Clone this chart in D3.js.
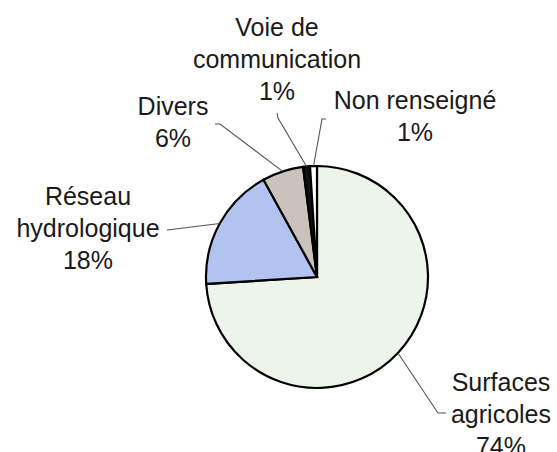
<!DOCTYPE html>
<html>
<head>
<meta charset="utf-8">
<script src="https://cdn.jsdelivr.net/npm/d3@7/dist/d3.min.js"></script>
<style>
  html, body { margin: 0; padding: 0; background: #fff; }
  svg { display: block; }
  text { font-family: "Liberation Sans", Arial, sans-serif; font-size: 25px; fill: #1a1a1a; }
</style>
</head>
<body>
<svg id="chart" width="557" height="452"></svg>
<script>
// ---- data ----
const categories = ["Surfaces agricoles", "Réseau hydrologique", "Divers", "Voie de communication", "Non renseigné"];
const values = [74, 18, 6, 1, 1];
const labelLines = [
  ["Surfaces", "agricoles", "74%"],
  ["Réseau", "hydrologique", "18%"],
  ["Divers", "6%"],
  ["Voie de", "communication", "1%"],
  ["Non renseigné", "1%"]
];

// ---- styles / layout ----
const colors = ["#edf5ea", "#b3c3ef", "#cbc3bb", "#111111", "#ffffff"];
const cx = 317, cy = 277, r = 111;
const labelLayout = [
  { x: 501, y: 391, lead: [[438, 413], [446, 413]] },
  { x: 88,  y: 205, lead: [[167, 230]] },
  { x: 173, y: 115, lead: [[220, 124], [215, 124]] },
  { x: 277, y: 36,  lead: [[278, 118], [277, 113]] },
  { x: 415, y: 109, lead: [[322, 119], [326, 119]] }
];
const lineH = 32;

const svg = d3.select("#chart");
const g = svg.append("g").attr("transform", `translate(${cx},${cy})`);

const data = categories.map((c, i) => ({ name: c, value: values[i], i }));
const pie = d3.pie().sort(null).value(d => d.value).startAngle(0).endAngle(2 * Math.PI);
const arcs = pie(data);
const arc = d3.arc().innerRadius(0).outerRadius(r);
const edge = d3.arc().innerRadius(r).outerRadius(r);

g.selectAll("path.slice")
  .data(arcs)
  .join("path")
  .attr("class", "slice")
  .attr("d", arc)
  .attr("fill", d => colors[d.data.i])
  .attr("stroke", "#000")
  .attr("stroke-width", 2.2)
  .attr("stroke-linejoin", "miter");

// leader lines
const line = d3.line();
arcs.forEach(d => {
  const L = labelLayout[d.data.i];
  const p = edge.centroid(d);
  const pt = [cx + p[0], cy + p[1]];
  const pts = d.data.i === 0 ? [pt, ...L.lead] : [pt, ...L.lead];
  svg.append("path")
    .attr("d", line(pts))
    .attr("fill", "none")
    .attr("stroke", "#555")
    .attr("stroke-width", 1.1);
});

// labels
data.forEach(d => {
  const L = labelLayout[d.i];
  const t = svg.append("text").attr("text-anchor", "middle");
  labelLines[d.i].forEach((s, k) => {
    t.append("tspan").attr("x", L.x).attr("y", L.y + k * lineH).text(s);
  });
});
</script>
</body>
</html>
